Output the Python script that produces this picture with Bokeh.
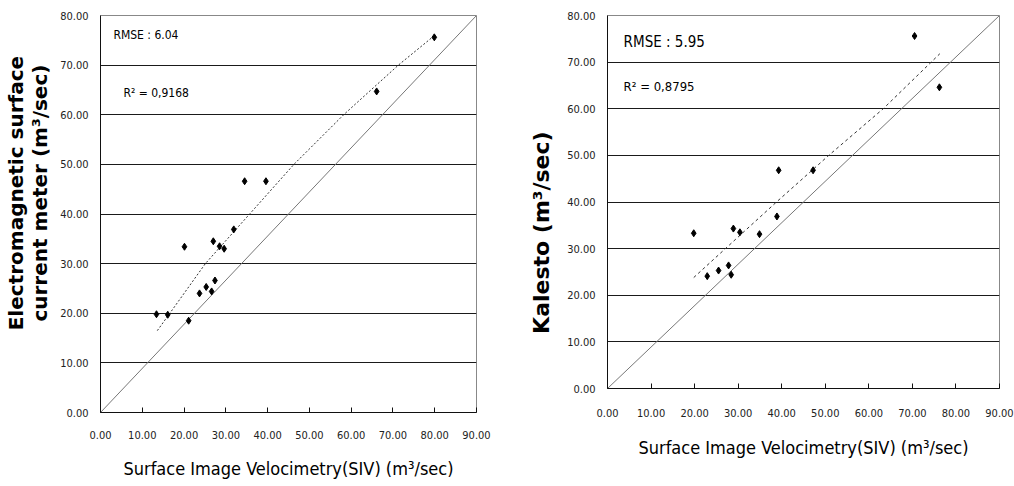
from bokeh.plotting import figure
from bokeh.layouts import row
from bokeh.models import Range1d, FixedTicker, NumeralTickFormatter, Label
from bokeh.embed import file_html
from bokeh.resources import INLINE

# ---------------- data ----------------
x_ticks = [0, 10, 20, 30, 40, 50, 60, 70, 80, 90]
y_ticks = [0, 10, 20, 30, 40, 50, 60, 70, 80]

# Left: Electromagnetic surface current meter vs SIV
siv_em = [13.4, 16.1, 21.1, 20.1, 23.7, 25.3, 26.6, 27.4, 27.0, 28.5, 29.6, 31.9, 34.5, 39.6, 66.1, 79.9]
em_val = [19.8, 19.7, 18.5, 33.4, 24.0, 25.3, 24.4, 26.6, 34.5, 33.5, 33.0, 36.9, 46.6, 46.6, 64.7, 75.6]
trend_em_x = [13.6, 16.6, 25.1, 35.7, 46.3, 58.2, 71.3, 79.7]
trend_em_y = [16.5, 20.0, 30.0, 40.0, 50.0, 60.0, 70.0, 75.8]
rmse_em = "RMSE : 6.04"
r2_em = "R\u00b2 = 0,9168"

# Right: Kalesto vs SIV
siv_ka = [19.8, 22.9, 25.5, 27.8, 28.4, 28.9, 30.4, 34.9, 38.9, 39.3, 47.2, 70.5, 76.2]
ka_val = [33.3, 24.1, 25.3, 26.4, 24.4, 34.3, 33.5, 33.1, 36.9, 46.8, 46.8, 75.6, 64.6]
trend_ka_x = [19.8, 38.8, 50.8, 63.3, 76.3]
trend_ka_y = [23.8, 40.0, 50.0, 60.0, 71.8]
rmse_ka = "RMSE : 5.95"
r2_ka = "R\u00b2 = 0,8795"

# reference diagonal (corner to corner of the plot area)
diag_x = [0, 90]
diag_y = [0, 80]

NB = "\u00a0"
x_title = "Surface Image Velocimetry(SIV) (m\u00b3/sec)"
# non-breaking spaces nudge the centred titles to where the reference has them
y_title_em = NB * 6 + "Electromagnetic surface\n" + NB * 6 + "current meter (m\u00b3/sec)"
y_title_ka = "Kalesto (m\u00b3/sec)" + NB * 8

NARROW = "DejaVu Sans Condensed, Liberation Sans, sans-serif"
BOLD_FONT = "DejaVu Sans"


def make(xs, ys, tx, ty, dash, rmse, r2, ytitle, fw, fh, bl, br, bt, bb,
         rmse_pos, r2_pos, ann_sizes, x_standoff, xlab_standoff, ylab_standoff, ytitle_size):
    p = figure(frame_width=fw, frame_height=fh, min_border_left=bl, min_border_right=br,
               min_border_top=bt, min_border_bottom=bb,
               x_range=Range1d(0, 90), y_range=Range1d(0, 80),
               output_backend="svg", toolbar_location=None)
    p.background_fill_color = "white"
    p.border_fill_color = "white"
    p.outline_line_color = "#888888"
    p.outline_line_width = 1

    p.xgrid.grid_line_color = None
    p.ygrid.grid_line_color = "#1a1a1a"
    p.ygrid.grid_line_width = 1

    p.xaxis.ticker = FixedTicker(ticks=x_ticks)
    p.yaxis.ticker = FixedTicker(ticks=y_ticks)
    p.xaxis.formatter = NumeralTickFormatter(format="0.00")
    p.yaxis.formatter = NumeralTickFormatter(format="0.00")
    for ax in (p.xaxis[0], p.yaxis[0]):
        ax.axis_line_color = "#111111"
        ax.axis_line_width = 1
        ax.minor_tick_line_color = None
        ax.major_label_text_font = NARROW
        ax.major_label_text_font_size = "11px"
        ax.major_label_text_color = "#222222"
        ax.major_tick_line_color = "#111111"
    p.xaxis.major_tick_in = 5
    p.xaxis.major_tick_out = 0
    p.xaxis.major_label_standoff = x_standoff
    p.yaxis.major_tick_in = 0
    p.yaxis.major_tick_out = 0
    p.yaxis.major_label_standoff = 12

    p.xaxis.axis_label = x_title
    p.xaxis.axis_label_text_font = NARROW
    p.xaxis.axis_label_text_font_style = "normal"
    p.xaxis.axis_label_text_font_size = "18px"
    p.xaxis.axis_label_text_color = "#000000"
    p.xaxis.axis_label_standoff = xlab_standoff

    p.yaxis.axis_label = ytitle
    p.yaxis.axis_label_text_font = BOLD_FONT
    p.yaxis.axis_label_text_font_style = "bold"
    p.yaxis.axis_label_text_font_size = ytitle_size
    p.yaxis.axis_label_text_color = "#000000"
    p.yaxis.axis_label_text_line_height = 1.0
    p.yaxis.axis_label_standoff = ylab_standoff

    # diagonal
    p.line(diag_x, diag_y, line_color="#777777", line_width=1)
    # trend line
    p.line(tx, ty, line_color="#333333", line_width=1, line_dash=dash)
    # points
    p.scatter(xs, ys, marker="diamond", size=7, fill_color="#000000", line_color="#000000")

    p.add_layout(Label(x=rmse_pos[0], y=rmse_pos[1], text=rmse, text_font=NARROW,
                       text_font_size=ann_sizes[0], text_baseline="middle", text_color="#000000"))
    p.add_layout(Label(x=r2_pos[0], y=r2_pos[1], text=r2, text_font=NARROW,
                       text_font_size=ann_sizes[1], text_baseline="middle", text_color="#000000"))
    return p


p1 = make(siv_em, em_val, trend_em_x, trend_em_y, "2 2", rmse_em, r2_em, y_title_em,
          376, 397, 100, 24, 15, 74, (3.1, 76.0), (5.5, 64.3), ("12px", "12px"), 18, 16, 5, "20px")
p2 = make(siv_ka, ka_val, trend_ka_x, trend_ka_y, "3 3", rmse_ka, r2_ka, y_title_ka,
          392, 373, 107, 15, 14, 99, (3.7, 74.4), (3.7, 64.8), ("15px", "13px"), 20, 17, 10, "22px")

layout = row(p1, p2)
open("out.html", "w").write(file_html(layout, INLINE))
